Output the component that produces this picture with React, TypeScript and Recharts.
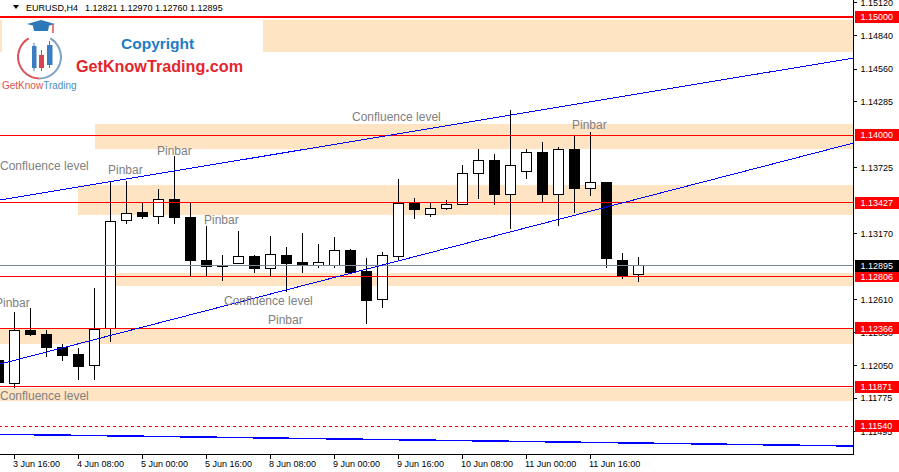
import React from 'react';
import { ComposedChart, Bar, XAxis, YAxis, ReferenceLine, ReferenceArea, ReferenceDot } from 'recharts';

const times = [
  '3 Jun 12:00', '3 Jun 16:00', '3 Jun 20:00', '4 Jun 00:00', '4 Jun 04:00', '4 Jun 08:00', '4 Jun 12:00',
  '4 Jun 16:00', '4 Jun 20:00', '5 Jun 00:00', '5 Jun 04:00', '5 Jun 08:00', '5 Jun 12:00', '5 Jun 16:00',
  '5 Jun 20:00', '8 Jun 00:00', '8 Jun 04:00', '8 Jun 08:00', '8 Jun 12:00', '8 Jun 16:00', '8 Jun 20:00',
  '9 Jun 00:00', '9 Jun 04:00', '9 Jun 08:00', '9 Jun 12:00', '9 Jun 16:00', '9 Jun 20:00', '10 Jun 00:00',
  '10 Jun 04:00', '10 Jun 08:00', '10 Jun 12:00', '10 Jun 16:00', '10 Jun 20:00', '11 Jun 00:00', '11 Jun 04:00',
  '11 Jun 08:00', '11 Jun 12:00', '11 Jun 16:00', '11 Jun 20:00', '12 Jun 00:00', '12 Jun 04:00',
];

const opens = [
  1.12090, 1.11901, 1.12352, 1.12318, 1.12208, 1.12141, 1.12050, 1.12366, 1.13280, 1.13350,
  1.13311, 1.13460, 1.13308, 1.12944, 1.12902, 1.12916, 1.12970, 1.12874, 1.12984, 1.12927,
  1.12899, 1.12899, 1.13029, 1.12843, 1.12612, 1.12972, 1.13422, 1.13331, 1.13382, 1.13415,
  1.13678, 1.13788, 1.13500, 1.13695, 1.13855, 1.13500, 1.13881, 1.13551, 1.13604, 1.12936, 1.12821,
];
const highs = [
  1.12141, 1.12502, 1.12541, 1.12352, 1.12234, 1.12200, 1.12710, 1.13607, 1.13615, 1.13435,
  1.13545, 1.13824, 1.13424, 1.13229, 1.12987, 1.13190, 1.12987, 1.13147, 1.13054, 1.13173,
  1.13080, 1.13139, 1.13040, 1.12959, 1.13012, 1.13629, 1.13469, 1.13432, 1.13452, 1.13748,
  1.13881, 1.13841, 1.14213, 1.13883, 1.13943, 1.13898, 1.14002, 1.14027, 1.13604, 1.13001, 1.12970,
];
const lows = [
  1.11844, 1.11859, 1.12304, 1.12121, 1.12092, 1.11929, 1.11929, 1.12248, 1.13246, 1.13294,
  1.13246, 1.13246, 1.12811, 1.12811, 1.12769, 1.12910, 1.12837, 1.12803, 1.12671, 1.12837,
  1.12879, 1.12879, 1.12840, 1.12400, 1.12541, 1.12944, 1.13294, 1.13305, 1.13365, 1.13407,
  1.13460, 1.13407, 1.13204, 1.13627, 1.13424, 1.13234, 1.13339, 1.13486, 1.12874, 1.12786, 1.12760,
];
const closes = [
  1.11904, 1.12352, 1.12318, 1.12202, 1.12135, 1.12047, 1.12358, 1.13274, 1.13342, 1.13311,
  1.13458, 1.13302, 1.12938, 1.12888, 1.12888, 1.12970, 1.12871, 1.12992, 1.12916, 1.12896,
  1.12927, 1.13029, 1.12840, 1.12600, 1.12984, 1.13421, 1.13371, 1.13382, 1.13415, 1.13678,
  1.13788, 1.13497, 1.13745, 1.13855, 1.13500, 1.13881, 1.13547, 1.13602, 1.12955, 1.12811, 1.12895,
];

const timeTicks = [1, 5, 9, 13, 17, 21, 25, 29, 33, 37];
const priceTicks = [1.1512, 1.1484, 1.1456, 1.14285, 1.13725, 1.1317, 1.1261, 1.1233, 1.1205, 1.11775, 1.11495];
const levelLines = [1.15, 1.14, 1.13427, 1.12806, 1.12366, 1.11871];
const dashedLevel = 1.1154;
const bidPrice = 1.12895;
const redLabels = [1.15, 1.14, 1.13427, 1.12806, 1.12366, 1.11871, 1.1154];

const zoneTops = [1.14975, 1.14095, 1.13579, 1.12834, 1.12363, 1.11861];
const zoneBottoms = [1.14704, 1.13883, 1.13325, 1.12728, 1.12234, 1.11751];
const zoneStarts: (number | undefined)[] = [undefined, 6.0625, 5, 7.375, undefined, undefined];

const upperChannel = [[0.125, 1.13452], [53.46875, 1.14653]];
const lowerChannel = [[0.125, 1.12064], [53.46875, 1.13934]];
const bottomLine = [[0.125, 1.1147], [53.46875, 1.11371]];

const noteTexts = [
  'Confluence level', 'Pinbar', 'Pinbar', 'Pinbar', 'Pinbar',
  'Confluence level', 'Pinbar', 'Confluence level', 'Pinbar', 'Confluence level',
];
const noteTimes = [0.125, 6.875, 9.9375, 12.875, -0.1875, 14.125, 16.875, 22.125, 35.875, 0.125];
const notePrices = [1.13739, 1.13706, 1.13866, 1.13283, 1.1258, 1.12597, 1.12437, 1.14154, 1.14086, 1.11794];

const X_DOMAIN: [number, number] = [0.125, 53.46875];
const Y_DOMAIN: [number, number] = [1.11299, 1.15144];

const rows = times.map((t, i) => ({
  i,
  t,
  o: opens[i],
  h: highs[i],
  l: lows[i],
  c: closes[i],
  range: [lows[i], highs[i]],
}));

const FONT = '"Liberation Sans", Arial, sans-serif';

const Candle = (props: any) => {
  const { x, y, width, height, payload } = props;
  if (payload == null || !isFinite(x) || !isFinite(y)) return null;
  const cx = Math.round(x + width / 2);
  const { o, h, l, c } = payload;
  const py = (v: number) => y + ((h - v) / (h - l)) * height;
  const top = py(Math.max(o, c));
  const bot = py(Math.min(o, c));
  const bull = c >= o;
  return (
    <g>
      <line x1={cx + 0.5} x2={cx + 0.5} y1={y} y2={y + height} stroke="#000" strokeWidth={1} />
      <rect
        x={cx - 4.5}
        y={top}
        width={10}
        height={Math.max(bot - top, 1)}
        fill={bull ? '#fff' : '#000'}
        stroke="#000"
        strokeWidth={1}
      />
    </g>
  );
};

const YTick = (props: any) => {
  const { x, y, payload } = props;
  const v = Number(payload.value);
  const isRed = redLabels.some((r) => Math.abs(r - v) < 1e-7);
  const isBid = Math.abs(bidPrice - v) < 1e-7;
  const label = v.toFixed(5);
  if (isRed || isBid) {
    return (
      <g>
        <rect x={x - 6} y={y - 6} width={46} height={12} fill={isBid ? '#000' : '#ff0000'} />
        <text x={x} y={y} dy="0.36em" fill="#fff" fontSize={9} fontFamily={FONT} textAnchor="start">
          {label}
        </text>
      </g>
    );
  }
  return (
    <g>
      <line x1={x - 7} x2={x - 4} y1={y} y2={y} stroke="#000" />
      <text x={x} y={y} dy="0.36em" fill="#000" fontSize={9} fontFamily={FONT} textAnchor="start">
        {label}
      </text>
    </g>
  );
};

const XTick = (props: any) => {
  const { x, y, payload } = props;
  return (
    <text x={x - 1} y={y} dy="0.71em" fill="#000" fontSize={9} fontFamily={FONT} textAnchor="start">
      {times[payload.value]}
    </text>
  );
};

const noteShape = (text: string) => (p: any) => (
  <text x={p.cx} y={p.cy} dy="0.35em" fill="#808080" fontSize={12} fontFamily={FONT} textAnchor="start">
    {text}
  </text>
);

const Overlay = () => (
  <svg
    width={899}
    height={472}
    style={{ position: 'absolute', left: 0, top: 0, pointerEvents: 'none', shapeRendering: 'auto' }}
  >
    <polygon points="13,5 19,5 16,9" fill="#000" />
    <text x={26} y={11} fontSize={9} fontFamily={FONT} fill="#000">EURUSD,H4</text>
    <text x={85} y={11} fontSize={9} fontFamily={FONT} fill="#000">1.12821 1.12970 1.12760 1.12895</text>
    <rect x={2} y={19} width={261} height={34} fill="#fff" />
    {/* logo */}
    <path d="M 28.75 38.4 A 21.5 21.5 0 0 0 39.5 78.5" fill="none" stroke="#d9545a" strokeWidth={2} />
    <path d="M 39.5 78.5 A 21.5 21.5 0 0 0 50.25 38.4" fill="none" stroke="#7fa3c6" strokeWidth={2} />
    <polygon points="27,24 41,20 55,24 41,28" fill="#2f78b8" />
    <polygon points="33,26 49,26 48,31 34,31" fill="#2f78b8" />
    <line x1={53} y1={24} x2={53} y2={33} stroke="#d9545a" strokeWidth={1.5} />
    <line x1={34} y1={43} x2={34} y2={71} stroke="#3a7dc0" strokeWidth={1} />
    <rect x={32} y={46} width={4.5} height={22} fill="#3a7dc0" />
    <line x1={41.5} y1={50} x2={41.5} y2={71} stroke="#d9434b" strokeWidth={1} />
    <rect x={39} y={55} width={5} height={13} fill="#d9434b" />
    <line x1={49.5} y1={41} x2={49.5} y2={68} stroke="#3a7dc0" strokeWidth={1} />
    <rect x={47} y={45} width={5.5} height={20} fill="#3a7dc0" />
    <text x={2} y={89} fontSize={10} fontFamily={FONT}>
      <tspan fill="#d9534f">GetKnow</tspan>
      <tspan fill="#4a90b8">Trading</tspan>
    </text>
    <text x={121} y={48.5} fontSize={15.5} fontWeight="bold" fontFamily={FONT} fill="#1e7bc4">
      Copyright
    </text>
    <text
      x={76}
      y={71.5}
      fontSize={16}
      fontWeight="bold"
      fontFamily={FONT}
      fill="#e3262d"
      textLength={167}
      lengthAdjust="spacingAndGlyphs"
    >
      GetKnowTrading.com
    </text>
  </svg>
);

export default function App() {
  return (
    <div
      style={{
        position: 'absolute',
        left: 0,
        top: 0,
        width: 899,
        height: 472,
        background: '#fff',
        shapeRendering: 'crispEdges',
        fontFamily: FONT,
      }}
    >
      <ComposedChart width={899} height={472} data={rows} margin={{ top: 0, right: 0, bottom: 0, left: 0 }}>
        <XAxis
          dataKey="i"
          type="number"
          domain={X_DOMAIN}
          allowDataOverflow
          ticks={timeTicks}
          interval={0}
          height={17.5}
          tickSize={4}
          tickMargin={2}
          axisLine={{ stroke: '#000' }}
          tickLine={{ stroke: '#000' }}
          tick={<XTick />}
        />
        <YAxis
          orientation="right"
          type="number"
          domain={Y_DOMAIN}
          allowDataOverflow
          ticks={[...priceTicks, ...redLabels, bidPrice]}
          interval={0}
          width={45.5}
          tickSize={3}
          tickMargin={4}
          axisLine={{ stroke: '#000' }}
          tickLine={false}
          tick={<YTick />}
        />
        {zoneTops.map((top, k) => (
          <ReferenceArea
            key={'z' + k}
            x1={zoneStarts[k]}
            y1={zoneBottoms[k]}
            y2={top}
            fill="#ffe4c4"
            fillOpacity={1}
            stroke="none"
            ifOverflow="hidden"
          />
        ))}
        <Bar dataKey="range" shape={Candle} barSize={10} isAnimationActive={false} />
        <ReferenceLine y={bidPrice} stroke="#778899" strokeWidth={1} />
        {levelLines.map((v, k) => (
          <ReferenceLine key={'l' + k} y={v} stroke="#ff0000" strokeWidth={k === 0 ? 2 : 1} />
        ))}
        <ReferenceLine y={dashedLevel} stroke="#ff0000" strokeWidth={1} strokeDasharray="3 3" />
        {[upperChannel, lowerChannel].map((seg, k) => (
          <ReferenceLine
            key={'c' + k}
            segment={[
              { x: seg[0][0], y: seg[0][1] },
              { x: seg[1][0], y: seg[1][1] },
            ]}
            stroke="#0000ff"
            strokeWidth={1}
            ifOverflow="visible"
          />
        ))}
        <ReferenceLine
          segment={[
            { x: bottomLine[0][0], y: bottomLine[0][1] },
            { x: bottomLine[1][0], y: bottomLine[1][1] },
          ]}
          stroke="#0000ff"
          strokeWidth={1.5}
          ifOverflow="visible"
        />
        {noteTexts.map((txt, k) => (
          <ReferenceDot
            key={'n' + k}
            x={noteTimes[k]}
            y={notePrices[k]}
            r={0}
            ifOverflow="visible"
            shape={noteShape(txt)}
          />
        ))}
      </ComposedChart>
      <Overlay />
    </div>
  );
}
